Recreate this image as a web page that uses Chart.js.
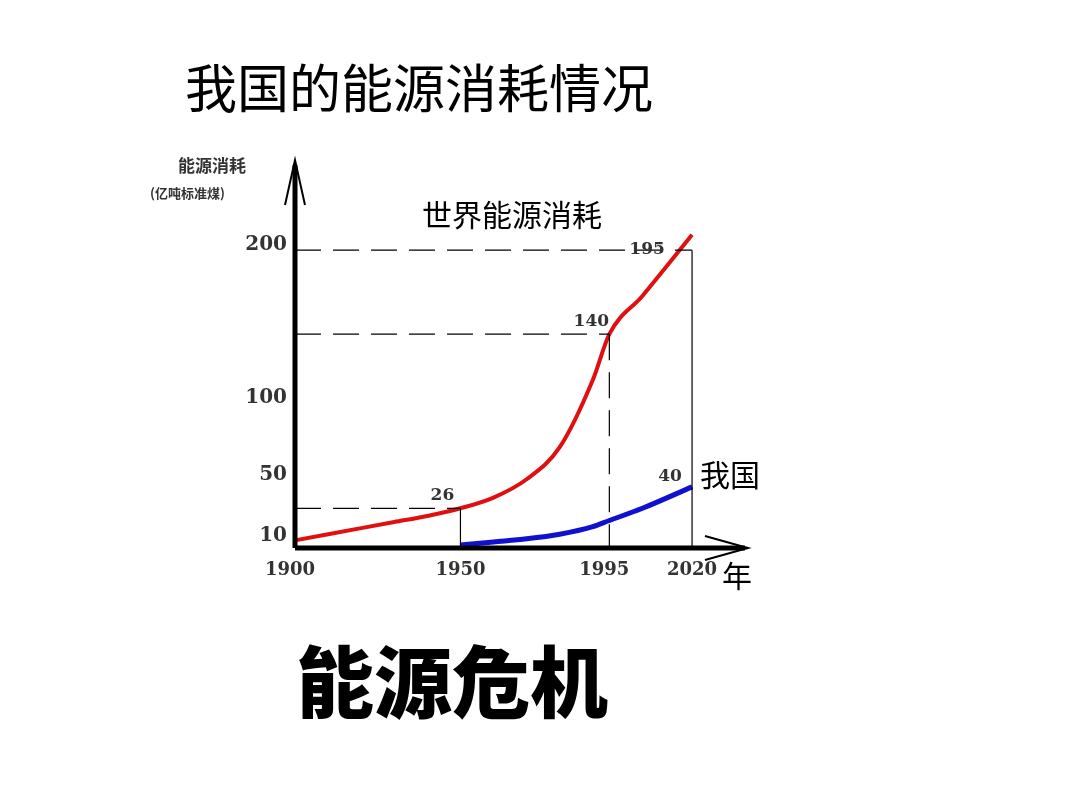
<!DOCTYPE html>
<html><head><meta charset="utf-8">
<script src="https://cdn.jsdelivr.net/npm/chart.js@4"></script>
<style>body{margin:0;background:#fff}#c{position:absolute;left:0;top:0}</style>
</head><body>
<canvas id="c" width="1080" height="810"></canvas>
<script>
var worldYears = [1900, 1910, 1920, 1930, 1940, 1950, 1960, 1970, 1980, 1990, 1995, 2005, 2020]
var worldValues = [5, 9, 13, 17, 21, 26, 33, 45, 66, 110, 140, 165, 205]
var chinaYears = [1950, 1960, 1970, 1980, 1990, 1995, 2005, 2020]
var chinaValues = [2, 4, 6, 9, 14, 18, 26, 40]
var yTicks = [10, 50, 100, 200]
var xTicks = [1900, 1950, 1995, 2020]
var marks = [[1950, 26, '26'], [1995, 140, '140'], [2020, 195, '195']]

var FONT = '"Noto Sans CJK SC", sans-serif'

function pts(xs, ys){ return xs.map(function(x, i){ return {x: x, y: ys[i]} }) }

var decor = {
  id: 'decor',
  afterDatasetsDraw: function(chart){
    var c = chart.ctx, xs = chart.scales.x, ys = chart.scales.y
    var x0 = xs.getPixelForValue(1900), y0 = ys.getPixelForValue(0)
    c.save()
    c.strokeStyle = '#000'; c.lineWidth = 1.2
    marks.forEach(function(m){
      var px = xs.getPixelForValue(m[0]), py = ys.getPixelForValue(m[1])
      c.setLineDash([26, 12])
      c.beginPath(); c.moveTo(x0, py); c.lineTo(px, py); c.stroke()
      if (m[0] == 1995) { c.beginPath(); c.moveTo(px, py); c.lineTo(px, y0); c.stroke() }
      c.setLineDash([])
      if (m[0] != 1995) { c.beginPath(); c.moveTo(px, py); c.lineTo(px, y0); c.stroke() }
      c.font = 'bold 17px "DejaVu Serif", serif'; c.fillStyle = '#333'; c.textAlign = 'center'
      c.fillText(m[2], px - (m[0] == 2020 ? 45 : 18), py - 8 + (m[0] == 2020 ? 12 : 0))
    })
    c.fillText('40', xs.getPixelForValue(2020) - 22, ys.getPixelForValue(40) - 6)
    c.lineWidth = 5
    c.beginPath(); c.moveTo(x0, y0); c.lineTo(x0, 165); c.stroke()
    c.beginPath(); c.moveTo(x0, y0); c.lineTo(745, y0); c.stroke()
    c.lineWidth = 2
    c.beginPath(); c.moveTo(x0 - 10, 205); c.lineTo(x0, 160); c.lineTo(x0 + 10, 205); c.stroke()
    c.beginPath(); c.moveTo(705, y0 - 12); c.lineTo(748, y0); c.lineTo(705, y0 + 12); c.stroke()
    c.fillStyle = '#333'; c.font = 'bold 20px "DejaVu Serif", serif'; c.textAlign = 'right'
    yTicks.forEach(function(v){ c.fillText(String(v), x0 - 8, ys.getPixelForValue(v) + 8) })
    c.font = 'bold 18px "DejaVu Serif", serif'; c.textAlign = 'center'
    xTicks.forEach(function(v){ c.fillText(String(v), xs.getPixelForValue(v) - (v == 1900 ? 5 : (v == 1995 ? 5 : 0)), y0 + 27) })
    c.fillStyle = '#000'
    c.font = '52px ' + FONT; c.textAlign = 'left'
    c.fillText('我国的能源消耗情况', 185, 108)
    c.font = '30px ' + FONT
    c.fillText('世界能源消耗', 422, 226)
    c.fillText('我国', 700, 486)
    c.fillText('年', 722, 587)
    c.font = 'bold 17px ' + FONT; c.fillStyle = '#333'
    c.fillText('能源消耗', 178, 172)
    c.font = 'bold 13px ' + FONT
    c.fillText('(亿吨标准煤)', 150, 198)
    c.fillStyle = '#000'; c.font = '900 78px ' + FONT
    c.fillText('能源危机', 296, 712)
    c.restore()
  }
}

new Chart(document.getElementById('c'), {
  type: 'line',
  data: {
    datasets: [
      { data: pts(worldYears, worldValues), borderColor: '#e01010', borderWidth: 4, pointRadius: 0, cubicInterpolationMode: 'monotone' },
      { data: pts(chinaYears, chinaValues), borderColor: '#1010d0', borderWidth: 5, pointRadius: 0, cubicInterpolationMode: 'monotone' }
    ]
  },
  options: {
    responsive: false, animation: false, clip: false,
    layout: { padding: { left: 295, right: 335, top: 160, bottom: 262 } },
    scales: {
      x: { type: 'linear', min: 1900, max: 2036, display: false },
      y: { min: 0, max: 254, display: false }
    },
    plugins: { legend: { display: false }, tooltip: { enabled: false } }
  },
  plugins: [decor]
})
</script>
</body></html>
